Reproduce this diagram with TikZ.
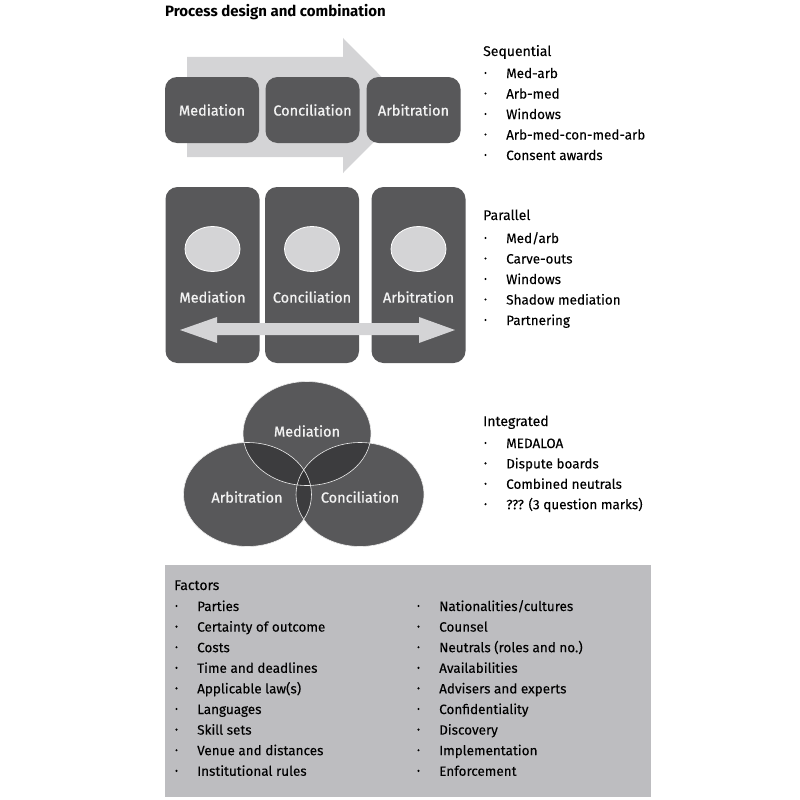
\documentclass[tikz,border=0pt]{standalone}
\usepackage{fontspec}
\setmainfont{Fira Sans}
\newfontfamily\itemfont[FakeBold=0.1]{Fira Sans}
\newfontfamily\labelfont[FakeBold=0.9]{Fira Sans}
\usetikzlibrary{positioning,calc}
\usepackage{xcolor}
\definecolor{boxgray}{HTML}{58585A}
\definecolor{arrowgray}{HTML}{D4D4D6}
\definecolor{panelgray}{HTML}{BDBDC0}
\definecolor{overlapgray}{HTML}{3C3C3E}
\definecolor{coregray}{HTML}{333335}
\definecolor{labelwhite}{HTML}{F2F2F2}

\begin{document}
\begin{tikzpicture}[x=1pt,y=-1pt,
    procbox/.style={fill=boxgray,rounded corners=12pt,minimum width=94pt,inner sep=0pt,
      text=labelwhite,font=\labelfont\fontsize{14.5}{16}\selectfont},
    proclabel/.style={text=labelwhite,font=\labelfont\fontsize{14.5}{16}\selectfont,inner sep=0pt},
    heading/.style={anchor=base west,inner sep=0pt,font=\itemfont\fontsize{14}{16}\selectfont},
    item/.style={anchor=base west,inner sep=0pt,font=\itemfont\fontsize{13.5}{16}\selectfont}]
  \useasboundingbox (0,0) rectangle (800,800);

  % title
  \node[anchor=base west,inner sep=0pt,font=\fontsize{15}{17}\bfseries] (title) at (165,17) {Process design and combination};

  % sequential
  \fill[arrowgray] (187,57) -- (343,57) -- (343,38) -- (410,105.5) -- (343,173) -- (343,157) -- (187,157) -- cycle;
  \node[procbox,minimum height=66pt] (seqmed) at (212,110) {Mediation};
  \node[procbox,minimum height=66pt] (seqcon) at (312.5,110) {Conciliation};
  \node[procbox,minimum height=66pt] (seqarb) at (413.5,110) {Arbitration};

  % parallel
  \foreach \n/\x/\t in {med/212.5/Mediation,con/312/Conciliation,arb/418.5/Arbitration}{
    \node[procbox,minimum height=176pt] (par\n) at (\x,275) {};
    \draw[fill=arrowgray,draw=white,line width=0.8pt] (\x,249) ellipse [x radius=27.5pt,y radius=22.5pt];
    \node[proclabel] (par\n label) at (\x,297) {\t};
  }
  \fill[arrowgray] (180,330) -- (217,317) -- (217,323) -- (419,323) -- (419,317) -- (455,330)
    -- (419,343) -- (419,335) -- (217,335) -- (217,343) -- cycle;

  % integrated
  \coordinate (vmed) at (307,433.5);
  \coordinate (varb) at (247.5,494.5);
  \coordinate (vcon) at (360,494.5);
  \foreach \c in {vmed,varb,vcon}{
    \fill[boxgray] (\c) ellipse [x radius=64pt,y radius=52pt];
  }
  \foreach \a/\b in {vmed/varb,vmed/vcon,varb/vcon}{
    \begin{scope}
      \clip (\a) ellipse [x radius=64pt,y radius=52pt];
      \fill[overlapgray] (\b) ellipse [x radius=64pt,y radius=52pt];
    \end{scope}
  }
  \begin{scope}
    \clip (vmed) ellipse [x radius=64pt,y radius=52pt];
    \clip (varb) ellipse [x radius=64pt,y radius=52pt];
    \fill[coregray] (vcon) ellipse [x radius=64pt,y radius=52pt];
  \end{scope}
  \foreach \c in {vmed,varb,vcon}{
    \draw[white!85!gray,line width=0.6pt] (\c) ellipse [x radius=64pt,y radius=52pt];
  }
  \node[proclabel] (vmedlabel) at (307,431) {Mediation};
  \node[proclabel] (varblabel) at (247,497) {Arbitration};
  \node[proclabel] (vconlabel) at (360,497) {Conciliation};

  % lists on the right
  \node[heading] (seqhead) at (483,56) {Sequential};
  \foreach [count=\i] \t in {Med-arb,Arb-med,Windows,Arb-med-con-med-arb,Consent awards}{
    \node[item] (seq\i) at (506,{78+(\i-1)*20.5}) {\t};
    \fill (485.5,{73+(\i-1)*20.5}) circle (1.2pt);
  }
  \node[heading] (parhead) at (483,220) {Parallel};
  \foreach [count=\i] \t in {Med/arb,Carve-outs,Windows,Shadow mediation,Partnering}{
    \node[item] (par\i) at (506,{243+(\i-1)*20.5}) {\t};
    \fill (485.5,{238+(\i-1)*20.5}) circle (1.2pt);
  }
  \node[heading] (inthead) at (483,426) {Integrated};
  \foreach [count=\i] \t in {MEDALOA,Dispute boards,Combined neutrals,??? (3 question marks)}{
    \node[item] (int\i) at (506,{448+(\i-1)*20.4}) {\t};
    \fill (485.5,{443+(\i-1)*20.4}) circle (1.2pt);
  }

  % factors
  \fill[panelgray] (165,565) rectangle (651,797);
  \node[heading] (facthead) at (174,590) {Factors};
  \foreach [count=\i] \t in {Parties,Certainty of outcome,Costs,Time and deadlines,Applicable law(s),
      Languages,Skill sets,Venue and distances,Institutional rules}{
    \node[item] (factl\i) at (197,{611+(\i-1)*20.6}) {\t};
    \fill (176.5,{606+(\i-1)*20.6}) circle (1.2pt);
  }
  \foreach [count=\i] \t in {Nationalities/cultures,Counsel,Neutrals (roles and no.),Availabilities,
      Advisers and experts,Confidentiality,Discovery,Implementation,Enforcement}{
    \node[item] (factr\i) at (439,{611+(\i-1)*20.6}) {\t};
    \fill (418.5,{606+(\i-1)*20.6}) circle (1.2pt);
  }
\end{tikzpicture}
\end{document}
